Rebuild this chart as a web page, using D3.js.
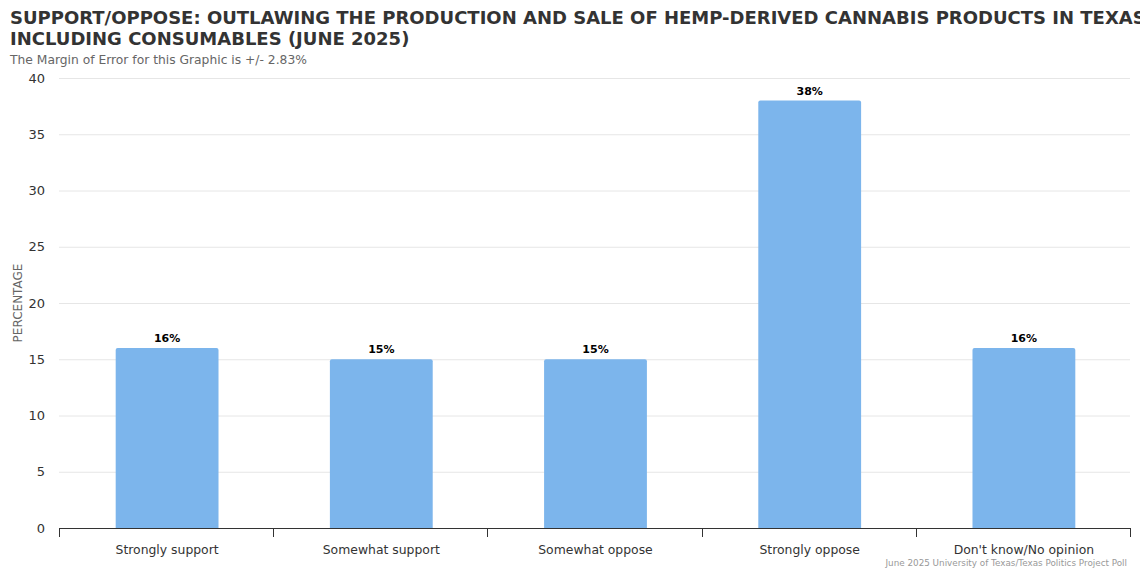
<!DOCTYPE html>
<html>
<head>
<meta charset="utf-8">
<script src="https://cdn.jsdelivr.net/npm/d3@7"></script>
<style>
  body { margin: 0; background: #fff; }
  svg { font-family: "DejaVu Sans", sans-serif; }
</style>
</head>
<body>
<div id="chart"></div>
<script>
// data
var categories = ["Strongly support", "Somewhat support", "Somewhat oppose", "Strongly oppose", "Don't know/No opinion"];
var values = [16, 15, 15, 38, 16];
var yTicks = [0, 5, 10, 15, 20, 25, 30, 35, 40];

var W = 1140, H = 570;
var margin = {top: 78, right: 10, bottom: 42, left: 59};
var width = W - margin.left - margin.right,
    height = H - margin.top - margin.bottom;

var svg = d3.select("#chart")
  .append("svg")
    .attr("width", W)
    .attr("height", H);

// title + subtitle
var title = svg.append("text")
    .attr("x", 10)
    .attr("y", 24)
    .style("font-size", "18px")
    .style("font-weight", "bold")
    .style("fill", "#333333");
title.append("tspan").attr("x", 10).attr("dy", 0)
    .text("SUPPORT/OPPOSE: OUTLAWING THE PRODUCTION AND SALE OF HEMP-DERIVED CANNABIS PRODUCTS IN TEXAS,");
title.append("tspan").attr("x", 10).attr("dy", 21)
    .text("INCLUDING CONSUMABLES (JUNE 2025)");

svg.append("text")
    .attr("x", 10)
    .attr("y", 64)
    .style("font-size", "12.3px")
    .style("fill", "#666666")
    .text("The Margin of Error for this Graphic is +/- 2.83%");

var g = svg.append("g")
    .attr("transform", "translate(" + margin.left + "," + margin.top + ")");

var x = d3.scaleBand()
    .domain(categories)
    .range([0, width])
    .paddingInner(0.52)
    .paddingOuter(0.26);

var y = d3.scaleLinear()
    .domain([0, 40])
    .range([height, 0]);

// grid lines
g.append("g")
  .selectAll("line")
  .data(yTicks.filter(function(d) { return d > 0; }))
  .enter()
  .append("line")
    .attr("x1", 0)
    .attr("x2", width)
    .attr("y1", function(d) { return y(d) + 0.5; })
    .attr("y2", function(d) { return y(d) + 0.5; })
    .attr("stroke", "#e6e6e6");

// y axis labels
var yAxis = g.append("g")
    .call(d3.axisLeft(y).tickValues(yTicks).tickSize(0).tickPadding(14));
yAxis.select(".domain").remove();
yAxis.selectAll("text")
    .style("font-size", "13px")
    .style("font-family", "DejaVu Sans, sans-serif")
    .style("fill", "#333333");

svg.append("text")
    .attr("transform", "translate(22," + (margin.top + height / 2) + ") rotate(-90)")
    .attr("text-anchor", "middle")
    .style("font-size", "12px")
    .style("fill", "#666666")
    .text("PERCENTAGE");

// bars
g.selectAll("path.bar")
  .data(values)
  .enter()
  .append("path")
    .attr("class", "bar")
    .attr("fill", "#7cb5ec")
    .attr("d", function(d, i) {
      var x0 = x(categories[i]) + 1, w = x.bandwidth(), y0 = y(d), h = height - y0, r = 2;
      return "M" + x0 + "," + (y0 + h) +
        "V" + (y0 + r) + "Q" + x0 + "," + y0 + " " + (x0 + r) + "," + y0 +
        "H" + (x0 + w - r) + "Q" + (x0 + w) + "," + y0 + " " + (x0 + w) + "," + (y0 + r) +
        "V" + (y0 + h) + "Z";
    });

// data labels
g.selectAll("text.lbl")
  .data(values)
  .enter()
  .append("text")
    .attr("class", "lbl")
    .attr("x", function(d, i) { return x(categories[i]) + 1 + x.bandwidth() / 2; })
    .attr("y", function(d) { return y(d) - 6; })
    .attr("text-anchor", "middle")
    .style("font-size", "11px")
    .style("font-weight", "bold")
    .style("fill", "#000000")
    .style("stroke", "#ffffff")
    .style("stroke-width", "2px")
    .style("paint-order", "stroke")
    .text(function(d) { return d + "%"; });

// x axis
var step = width / categories.length;
var xa = g.append("g").attr("transform", "translate(0," + height + ")");
xa.append("line")
    .attr("x1", 0).attr("x2", width)
    .attr("y1", 0.5).attr("y2", 0.5)
    .attr("stroke", "#333333");
xa.selectAll("line.tick")
  .data(d3.range(categories.length + 1))
  .enter()
  .append("line")
    .attr("class", "tick")
    .attr("x1", function(d) { return Math.round(d * step) + 0.5; })
    .attr("x2", function(d) { return Math.round(d * step) + 0.5; })
    .attr("y1", 0)
    .attr("y2", 9)
    .attr("stroke", "#333333");
xa.selectAll("text")
  .data(categories)
  .enter()
  .append("text")
    .attr("x", function(d) { return x(d) + 1 + x.bandwidth() / 2; })
    .attr("y", 26)
    .attr("text-anchor", "middle")
    .style("font-size", "12.4px")
    .style("fill", "#333333")
    .text(function(d) { return d; });

// credits
svg.append("text")
    .attr("x", W - 13)
    .attr("y", H - 4)
    .attr("text-anchor", "end")
    .style("font-size", "8.8px")
    .style("fill", "#999999")
    .text("June 2025 University of Texas/Texas Politics Project Poll");
</script>
</body>
</html>
